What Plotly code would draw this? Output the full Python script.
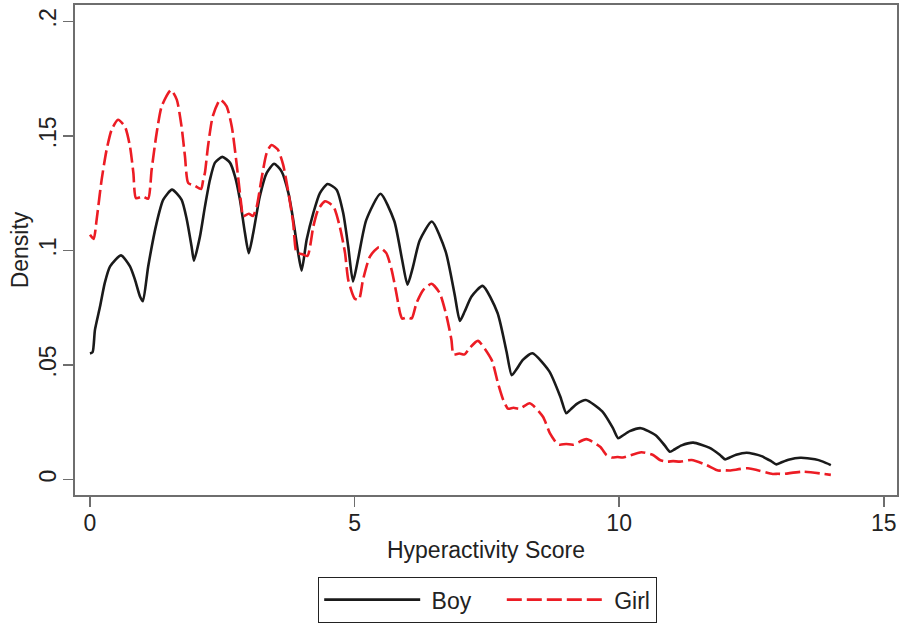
import plotly.graph_objects as go

# ---- data (kernel density of Hyperactivity Score) ----
boy_x = [0.00, 0.05, 0.094, 0.19, 0.28, 0.38, 0.586, 0.756, 0.85, 0.945, 1.00,
         1.10, 1.26, 1.385, 1.55, 1.73, 1.83, 1.92, 1.965,
         2.078, 2.173, 2.267, 2.362, 2.50, 2.645, 2.74, 2.834, 2.928, 3.00,
         3.085, 3.21, 3.34, 3.48, 3.62, 3.75, 3.84, 3.935, 4.00,
         4.094, 4.22, 4.345, 4.49, 4.66, 4.785, 4.88, 4.97,
         5.07, 5.22, 5.49, 5.75, 5.90, 6.00,
         6.10, 6.23, 6.46, 6.72, 6.89, 6.99,
         7.08, 7.21, 7.42, 7.70, 7.87, 7.97,
         8.06, 8.18, 8.36, 8.68, 8.89, 9.00,
         9.08, 9.20, 9.37, 9.68, 9.88, 9.98,
         10.07, 10.20, 10.41, 10.69, 10.86, 10.96,
         11.05, 11.18, 11.40, 11.70, 11.90, 12.00,
         12.09, 12.21, 12.41, 12.69, 12.87, 12.97,
         13.06, 13.20, 13.42, 13.70, 13.85, 14.00]
boy_y = [0.0550, 0.0556, 0.0653, 0.0755, 0.0858, 0.0930, 0.0978, 0.0930, 0.0872, 0.0799, 0.0778,
         0.0930, 0.1120, 0.1221, 0.1265, 0.1221, 0.1134, 0.1017, 0.0955,
         0.1060, 0.1192, 0.1308, 0.1383, 0.1408, 0.1383, 0.1323, 0.1221, 0.1077, 0.0988,
         0.1076, 0.1236, 0.1338, 0.1378, 0.1345, 0.1250, 0.1134, 0.0988, 0.0912,
         0.1046, 0.1163, 0.1250, 0.1290, 0.1265, 0.1163, 0.1017, 0.0864,
         0.0967, 0.1132, 0.1247, 0.1128, 0.0957, 0.0850,
         0.0925, 0.1043, 0.1126, 0.0996, 0.0809, 0.0692,
         0.0733, 0.0799, 0.0845, 0.0728, 0.0560, 0.0455,
         0.0481, 0.0522, 0.0551, 0.0472, 0.0360, 0.0289,
         0.0305, 0.0330, 0.0347, 0.0297, 0.0225, 0.0180,
         0.0192, 0.0211, 0.0224, 0.0193, 0.0149, 0.0121,
         0.0132, 0.0149, 0.0161, 0.0139, 0.0108, 0.0088,
         0.0096, 0.0108, 0.0117, 0.0102, 0.0080, 0.0066,
         0.0074, 0.0086, 0.0095, 0.0088, 0.0078, 0.0063]

girl_x = [0.00, 0.07, 0.126, 0.22, 0.315, 0.41, 0.53, 0.66, 0.756, 0.82, 0.87,
          1.00, 1.10, 1.165, 1.26, 1.355, 1.53, 1.64, 1.73, 1.795, 1.857,
          1.98, 2.10, 2.14, 2.173, 2.23, 2.32, 2.46, 2.58, 2.68, 2.77, 2.87, 2.89,
          3.00, 3.08, 3.15, 3.24, 3.34, 3.43, 3.55, 3.65, 3.74, 3.84, 3.905,
          4.00, 4.11, 4.22, 4.31, 4.44, 4.60, 4.72, 4.82, 4.88,
          5.00, 5.08, 5.16, 5.29, 5.46, 5.60, 5.70, 5.79, 5.86, 5.90,
          6.00, 6.08, 6.17, 6.30, 6.455, 6.61, 6.74, 6.83, 6.87,
          6.98, 7.08, 7.18, 7.33, 7.59, 7.71, 7.81, 7.90,
          8.00, 8.12, 8.31, 8.56, 8.69, 8.82, 8.88,
          9.00, 9.13, 9.38, 9.64, 9.76, 9.86,
          9.97, 10.07, 10.42, 10.64, 10.77, 10.90,
          11.02, 11.15, 11.37, 11.65, 11.87,
          11.98, 12.09, 12.43, 12.90,
          13.00, 13.09, 13.47, 14.00]
girl_y = [0.1068, 0.1050, 0.1134, 0.1308, 0.1440, 0.1527, 0.1570, 0.1541, 0.1454, 0.1338, 0.1228,
          0.1235, 0.1226, 0.1352, 0.1512, 0.1629, 0.1700, 0.1658, 0.1541, 0.1410, 0.1294,
          0.1282, 0.1268, 0.1308, 0.1340, 0.1454, 0.1585, 0.1658, 0.1630, 0.1540, 0.1380, 0.1177, 0.1148,
          0.1160, 0.1150, 0.1190, 0.1310, 0.1426, 0.1460, 0.1440, 0.1374, 0.1265, 0.1120, 0.0990,
          0.0984, 0.0976, 0.1104, 0.1177, 0.1214, 0.1192, 0.1104, 0.0988, 0.0872,
          0.0790, 0.0784, 0.0872, 0.0973, 0.1014, 0.0988, 0.0915, 0.0813, 0.0726, 0.0702,
          0.0708, 0.0703, 0.0770, 0.0828, 0.0854, 0.0813, 0.0711, 0.0610, 0.0546,
          0.0550, 0.0546, 0.0575, 0.0605, 0.0522, 0.0420, 0.0347, 0.0309,
          0.0313, 0.0309, 0.0333, 0.0274, 0.0202, 0.0158, 0.0152,
          0.0155, 0.0152, 0.0176, 0.0143, 0.0107, 0.0096,
          0.0098, 0.0096, 0.0119, 0.0107, 0.0085, 0.0078,
          0.0080, 0.0078, 0.0085, 0.0063, 0.0039,
          0.0040, 0.0039, 0.0049, 0.0024,
          0.0025, 0.0024, 0.0034, 0.0020]

x_ticks = [0, 5, 10, 15]
x_tick_labels = ["0", "5", "10", "15"]
y_ticks = [0, 0.05, 0.10, 0.15, 0.20]
y_tick_labels = ["0", ".05", ".1", ".15", ".2"]
series_names = ["Boy", "Girl"]

FONT = "Liberation Sans, Arial, Helvetica, sans-serif"
FRAME = "#6e6e6e"
TXT = "#222222"
NB = "\u00a0"

fig = go.Figure()
fig.add_trace(go.Scatter(x=boy_x, y=boy_y, mode="lines", name=" " + series_names[0] + NB * 4,
                         line=dict(color="#1a1a1a", width=2.6, shape="spline", smoothing=0.6)))
fig.add_trace(go.Scatter(x=girl_x, y=girl_y, mode="lines", name=" " + series_names[1],
                         line=dict(color="#ec1c24", width=2.6, dash="15px,5px",
                                   shape="spline", smoothing=0.6)))

fig.update_layout(
    width=900, height=625,
    margin=dict(l=75, r=3, t=5, b=130, autoexpand=False),
    paper_bgcolor="white", plot_bgcolor="white",
    font=dict(family=FONT, size=23, color=TXT),
    showlegend=True,
    legend=dict(orientation="h", x=0.2955, xanchor="left", y=-0.167, yanchor="top",
                bordercolor=TXT, borderwidth=1.3, bgcolor="white",
                font=dict(family=FONT, size=23, color=TXT),
                itemwidth=96, tracegroupgap=0),
    xaxis=dict(range=[-0.283, 15.25], tickmode="array", tickvals=x_ticks, ticktext=x_tick_labels,
               automargin=False,
               showgrid=False, zeroline=False, showline=True, mirror=True,
               linecolor=FRAME, linewidth=2, ticks="outside", ticklen=10, tickwidth=1.5,
               tickcolor=FRAME, ticklabelstandoff=-4,
               title=dict(text="Hyperactivity Score", standoff=7,
                          font=dict(family=FONT, size=23, color=TXT))),
    yaxis=dict(range=[-0.00677, 0.2071], tickmode="array", tickvals=y_ticks, ticktext=y_tick_labels,
               automargin=False,
               tickangle=-90, showgrid=False, zeroline=False, showline=True, mirror=True,
               linecolor=FRAME, linewidth=2, ticks="outside", ticklen=10, tickwidth=1.5,
               tickcolor=FRAME, ticklabelstandoff=-2,
               title=dict(text="Density", standoff=0,
                          font=dict(family=FONT, size=23, color=TXT))),
)

fig.write_html("out.html", config={"displayModeBar": False, "staticPlot": True},
               post_script="document.body.style.margin='0';document.body.style.overflow='hidden';")
